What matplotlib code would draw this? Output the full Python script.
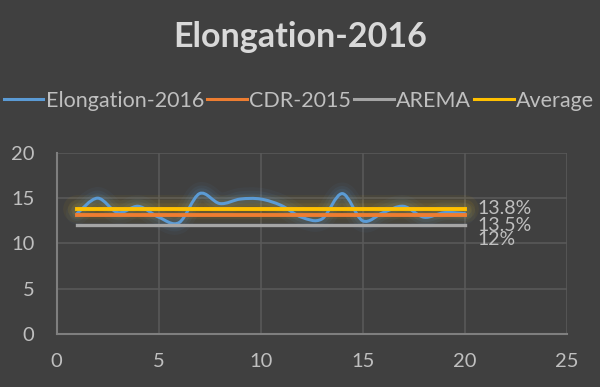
import numpy as np
import matplotlib
matplotlib.use("Agg")
import matplotlib.pyplot as plt
from matplotlib.path import Path
from matplotlib.patches import PathPatch
from matplotlib.lines import Line2D

plt.rcParams['font.family'] = ['Lato', 'DejaVu Sans']

# data
sample = list(range(1, 21))
elongation = [13.3, 15.0, 13.4, 14.1, 12.9, 12.3, 15.5, 14.4, 14.9, 14.9,
              14.2, 12.9, 12.7, 15.5, 12.5, 13.4, 14.1, 12.9, 13.4, 13.3]
cdr_2015 = 13.1
arema = 12.0
average = 13.8
end_labels = ["13.8%", "13.5%", "12%"]

bg = "#404040"
txt = "#bfbfbf"
c_blue = "#5b9bd5"
c_orange = "#ed7d31"
c_gray = "#a5a5a5"
c_yellow = "#ffc000"


def smooth_path(x, y):
    # Excel-style smoothed line as cubic Bezier segments
    pts = np.column_stack([x, y]).astype(float)
    n = len(pts)
    verts = [pts[0]]
    codes = [Path.MOVETO]
    for i in range(n - 1):
        p0 = pts[i - 1] if i > 0 else pts[i]
        p1 = pts[i]
        p2 = pts[i + 1]
        p3 = pts[i + 2] if i + 2 < n else pts[i + 1]
        c1 = p1 + (p2 - p0) / 6.0
        c2 = p2 - (p3 - p1) / 6.0
        verts += [c1, c2, p2]
        codes += [Path.CURVE4] * 3
    return Path(verts, codes)


fig = plt.figure(figsize=(6, 3.87), dpi=100, facecolor=bg)
ax = fig.add_axes([0.0945, 0.137, 0.85, 0.468])
ax.set_facecolor(bg)

path = smooth_path(sample, elongation)
# soft glow
for lw, a in [(16, 0.05), (11, 0.07), (7, 0.09)]:
    ax.add_patch(PathPatch(path, fill=False, edgecolor=c_blue, lw=lw, alpha=a,
                           capstyle='round', joinstyle='round'))
ax.add_patch(PathPatch(path, fill=False, edgecolor=c_blue, lw=2.2,
                       capstyle='round', joinstyle='round', zorder=3))

xs = [sample[0], sample[-1]]
for lw, a in [(20, 0.05), (14, 0.07), (9, 0.08)]:
    ax.plot(xs, [average] * 2, color=c_yellow, lw=lw, alpha=a, solid_capstyle='round')
ax.plot(xs, [arema] * 2, color=c_gray, lw=2.4, zorder=4)
ax.plot(xs, [cdr_2015] * 2, color=c_orange, lw=2.8, zorder=4)
ax.plot(xs, [average] * 2, color=c_yellow, lw=2.8, zorder=5)

# end labels (stacked close together, as in the original)
for val, lab, dy in zip([average, cdr_2015, arema], end_labels, [0.1, -1.1, -1.55]):
    ax.text(sample[-1] + 0.65, val + dy, lab, color=txt, fontsize=14,
            va='center', ha='left')

ax.set_xlim(0, 25)
ax.set_ylim(0, 20)
ax.set_xticks([0, 5, 10, 15, 20, 25])
ax.set_yticks([0, 5, 10, 15, 20])
ax.grid(True, color="#595959", lw=1.2)
ax.set_axisbelow(True)
for s in ['top', 'right']:
    ax.spines[s].set_visible(False)
for s in ['left', 'bottom']:
    ax.spines[s].set_color("#7f7f7f")
    ax.spines[s].set_linewidth(1.5)
ax.tick_params(length=0, colors=txt, labelsize=14.5)
ax.tick_params(axis='y', pad=16)
ax.tick_params(axis='x', pad=14)

fig.text(0.5, 0.905, "Elongation-2016", ha='center', va='center',
         color="#d9d9d9", fontsize=24.5, fontweight='bold')

handles = [Line2D([], [], color=c, lw=2.2) for c in [c_blue, c_orange, c_gray, c_yellow]]
fig.legend(handles, ["Elongation-2016", "CDR-2015", "AREMA", "Average"],
           loc='center left', bbox_to_anchor=(-0.012, 0.74), ncol=4, frameon=False,
           fontsize=15.5, labelcolor=txt, handlelength=1.85, handletextpad=0.1,
           columnspacing=0.15, borderpad=0)

fig.savefig("out.png", dpi=100, facecolor=bg)
